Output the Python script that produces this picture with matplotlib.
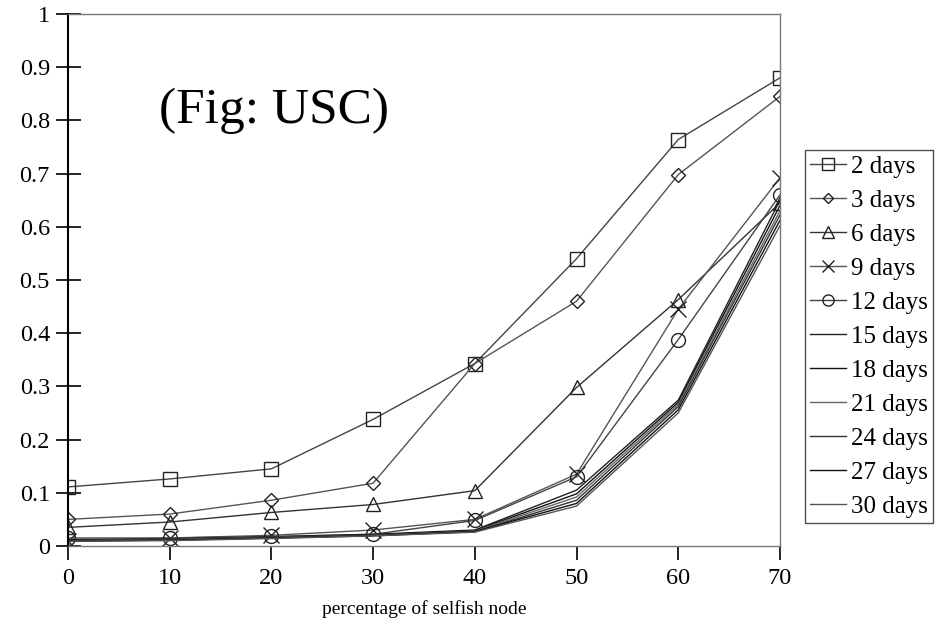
import matplotlib
matplotlib.use("Agg")
import matplotlib.pyplot as plt

plt.rcParams['font.family'] = ['Liberation Serif', 'DejaVu Serif']

selfish_pct = [0, 10, 20, 30, 40, 50, 60, 70]

labels = ["2 days", "3 days", "6 days", "9 days", "12 days", "15 days",
          "18 days", "21 days", "24 days", "27 days", "30 days"]

d2 = [0.111, 0.126, 0.145, 0.238, 0.343, 0.540, 0.764, 0.880]
d3 = [0.050, 0.060, 0.086, 0.118, 0.343, 0.460, 0.698, 0.845]
d6 = [0.035, 0.045, 0.063, 0.078, 0.104, 0.298, 0.463, 0.645]
d9 = [0.010, 0.015, 0.020, 0.030, 0.050, 0.135, 0.445, 0.692]
d12 = [0.015, 0.015, 0.018, 0.022, 0.048, 0.130, 0.388, 0.660]
d15 = [0.012, 0.013, 0.017, 0.022, 0.030, 0.105, 0.274, 0.650]
d18 = [0.011, 0.012, 0.016, 0.021, 0.029, 0.098, 0.270, 0.640]
d21 = [0.010, 0.012, 0.016, 0.020, 0.028, 0.092, 0.266, 0.630]
d24 = [0.010, 0.011, 0.015, 0.020, 0.027, 0.086, 0.262, 0.622]
d27 = [0.009, 0.011, 0.015, 0.019, 0.027, 0.080, 0.256, 0.612]
d30 = [0.009, 0.010, 0.014, 0.019, 0.026, 0.075, 0.250, 0.602]

series = [d2, d3, d6, d9, d12, d15, d18, d21, d24, d27, d30]
markers = ['s', 'D', '^', 'x', 'o', None, None, None, None, None, None]
msizes = [10, 7, 10, 11, 10, 0, 0, 0, 0, 0, 0]
colors = ['#444444', '#555555', '#333333', '#555555', '#444444',
          '#222222', '#111111', '#666666', '#333333', '#111111', '#555555']

fig = plt.figure(figsize=(9.36, 6.21), dpi=100)
ax = fig.add_axes([0.0726, 0.1208, 0.7607, 0.8567])

handles = []
for vals, lab, m, ms, c in zip(series, labels, markers, msizes, colors):
    kw = dict(color=c, lw=1.0, label=lab)
    if m:
        kw.update(marker=m, markersize=ms, markerfacecolor='none',
                  markeredgecolor='#222222', markeredgewidth=1.0)
    h, = ax.plot(selfish_pct, vals, **kw)
    handles.append(h)

ax.set_xlim(0, 70)
ax.set_ylim(0, 1)
ax.set_xticks(selfish_pct)
ax.set_yticks([i / 10 for i in range(11)])
ax.set_yticklabels(["0", "0.1", "0.2", "0.3", "0.4", "0.5", "0.6", "0.7",
                    "0.8", "0.9", "1"])
ax.tick_params(axis='y', direction='inout', length=18, width=1.2,
               labelsize=17.5, pad=4)
ax.tick_params(axis='x', direction='out', length=10, width=1.2,
               labelsize=17.5, pad=6)

for s in ['top', 'right', 'bottom']:
    ax.spines[s].set_color('#777777')
    ax.spines[s].set_linewidth(1.0)
ax.spines['left'].set_color('black')
ax.spines['left'].set_linewidth(1.5)

ax.set_xlabel("percentage of selfish node", fontsize=14, labelpad=8)

ax.text(0.128, 0.775, "(Fig: USC)", transform=ax.transAxes, fontsize=37,
        ha='left', va='bottom')

leg = fig.legend(handles=handles, loc='upper left',
                 bbox_to_anchor=(0.86, 0.758), fontsize=18,
                 handlelength=1.45, handletextpad=0.2, labelspacing=0.46,
                 borderpad=0.2, borderaxespad=0, frameon=True, fancybox=False,
                 markerscale=0.8)
leg.get_frame().set_edgecolor('#222222')
leg.get_frame().set_linewidth(1.0)

fig.savefig("out.png", dpi=100, facecolor='white')
